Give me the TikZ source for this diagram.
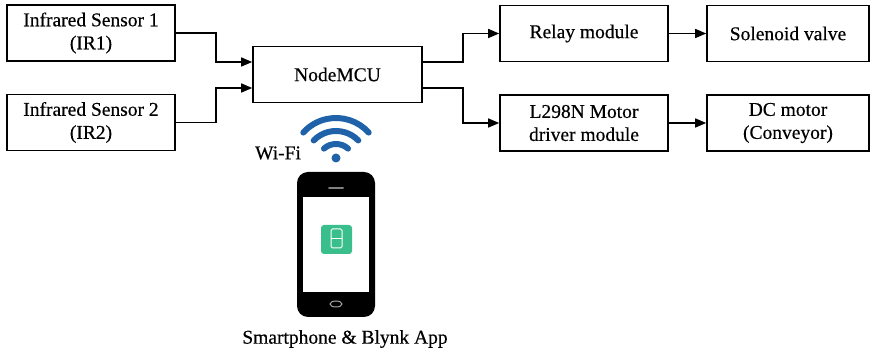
\documentclass[tikz,border=0pt]{standalone}
\usepackage{fontspec}
\setmainfont{Liberation Serif}[FakeBold=0.4]
\usetikzlibrary{arrows.meta}
\definecolor{wifiblue}{RGB}{32,98,170}
\definecolor{blynkgreen}{RGB}{58,190,140}
\tikzset{
  box/.style={draw, line width=1.6pt, minimum width=168pt, minimum height=56pt, align=center, inner sep=0pt},
  link/.style={-{Triangle[length=11pt,width=9pt]}, line width=1.4pt},
  wave/.style={wifiblue, line width=6pt, line cap=round}
}
\begin{document}
\begin{tikzpicture}[x=1pt,y=1pt,font=\fontsize{19.5}{23}\selectfont]
        \useasboundingbox (0,0) rectangle (871,355);
        \node[box] (ir1) at (91,322) {Infrared Sensor 1\\(IR1)};
        \node[box] (ir2) at (91,232.5) {Infrared Sensor 2\\(IR2)};
        \node[box,minimum width=169pt] (mcu) at (337.5,280.5) {NodeMCU};
        \node[box] (relay) at (584,321.5) {Relay module};
        \node[box] (l298n) at (584,232) {L298N Motor\\driver module};
        \node[box,minimum width=162pt] (valve) at (788,321.5) {Solenoid valve};
        \node[box,minimum width=162pt] (motor) at (788,232) {DC motor\\(Conveyor)};
        \draw[link] (ir1.east) -- ++(40,0) |- ([yshift=12.5pt]mcu.west);
        \draw[link] (ir2.east) -- ++(40,0) |- ([yshift=-13.5pt]mcu.west);
        \draw[link] ([yshift=12.5pt]mcu.east) -- ++(40,0) |- (relay.west);
        \draw[link] ([yshift=-13.5pt]mcu.east) -- ++(40,0) |- (l298n.west);
        \draw[link] (relay) -- (valve);
        \draw[link] (l298n) -- (motor);
        \draw[wave] (336,193) ++(42:44) arc (42:138:44);
        \draw[wave] (336,193) ++(44:31) arc (44:136:31);
        \draw[wave] (336,193) ++(48:18) arc (48:132:18);
        \fill[wifiblue] (336,197) circle (4.5);
        \node (wifi) at (278,202) {Wi-Fi};
        \fill[black,rounded corners=11pt] (297,38) rectangle (375,183);
        \fill[white] (303,63) rectangle (369,158);
        \draw[gray,line width=2pt,line cap=round] (329,167) -- (343,167);
        \draw[gray!70,line width=1pt] (336,51) ellipse (6 and 3);
        \fill[blynkgreen,rounded corners=3pt] (321,101) rectangle (352,130);
        \draw[white,line width=1pt,rounded corners=1.5pt] (331,107) rectangle (342,126);
        \draw[white,line width=1pt] (331,116.5) -- (342,116.5);
        \node (phone) at (345,16) {Smartphone \& Blynk App};
\end{tikzpicture}
\end{document}
